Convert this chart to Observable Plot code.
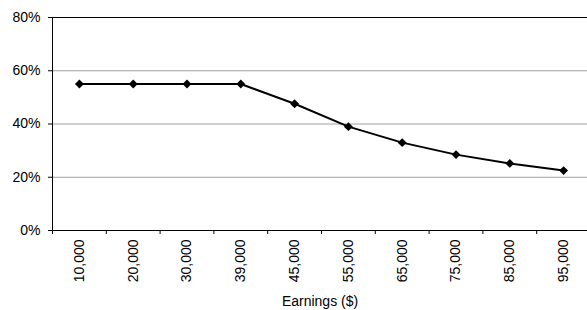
<!DOCTYPE html>
<html>
<head>
<meta charset="utf-8">
<script src="https://cdn.jsdelivr.net/npm/d3@7"></script>
<script src="https://cdn.jsdelivr.net/npm/@observablehq/plot@0.6"></script>
<style>
  html, body { margin: 0; padding: 0; background: #fff; }
</style>
</head>
<body>
<div id="chart"></div>
<script>
const earnings = ["10,000", "20,000", "30,000", "39,000", "45,000", "55,000", "65,000", "75,000", "85,000", "95,000"];
const rates = [0.55, 0.55, 0.55, 0.55, 0.476, 0.39, 0.33, 0.285, 0.252, 0.225];
const yTicks = [0, 0.2, 0.4, 0.6, 0.8];
const gridGray = [0.2, 0.4, 0.6];
const gridTop = [0.8];
const xTitle = "Earnings ($)";

const data = earnings.map((e, i) => ({earnings: e, rate: rates[i]}));

const left = 52, right = 590;
const step = (right - left) / earnings.length;

const chart = Plot.plot({
  width: 587,
  height: 310,
  marginLeft: left,
  marginRight: 0,
  marginTop: 17,
  marginBottom: 80,
  style: {fontFamily: "Arial, 'Liberation Sans', sans-serif", fontSize: "14px", background: "#fff", color: "#000"},
  x: {type: "point", domain: earnings, range: [left, right], padding: 0.5, round: false},
  y: {domain: [0, 0.8], range: [230, 17]},
  marks: [
    Plot.ruleY(gridGray, {stroke: "#a0a0a0", strokeWidth: 1}),
    Plot.ruleY(gridTop, {stroke: "#000", strokeWidth: 1}),
    Plot.ruleY([0], {stroke: "#000", strokeWidth: 1}),
    Plot.ruleX([earnings[0]], {y1: 0, y2: 0.8, dx: -step / 2, stroke: "#000", strokeWidth: 1}),
    Plot.axisY({ticks: yTicks, tickFormat: d3.format(".0%"), tickSize: 4, tickPadding: 8, label: null, stroke: "#000"}),
    Plot.axisX({tickSize: 4, text: null, dx: -step / 2, label: null, stroke: "#000"}),
    Plot.axisX({tickSize: 0, tickPadding: 9, tickRotate: -90, label: null}),
    Plot.text([xTitle], {frameAnchor: "bottom", dy: 71, text: d => d, fontSize: 14, fill: "#000", lineAnchor: "middle"}),
    Plot.line(data, {x: "earnings", y: "rate", stroke: "#000", strokeWidth: 2}),
    Plot.dot(data, {x: "earnings", y: "rate", symbol: "diamond2", r: 4, fill: "#000", stroke: "none"})
  ]
});
document.getElementById("chart").appendChild(chart);
</script>
</body>
</html>
